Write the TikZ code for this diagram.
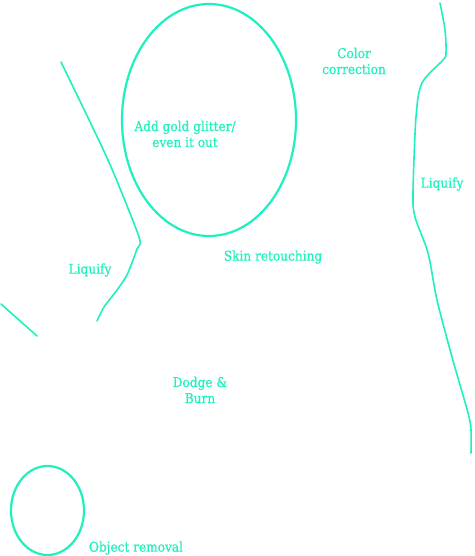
\documentclass[tikz,border=0pt]{standalone}
\usepackage{fontspec}
\setmainfont{DejaVu Serif Condensed}
\newfontfamily\notefont[FakeBold=0.6]{DejaVu Serif Condensed}
\usetikzlibrary{positioning}

\begin{document}
\begin{tikzpicture}[x=1pt, y=-1pt]

		% Colors
		\definecolor{markcolor}{RGB}{30,240,190}

		% Styles
		\tikzset{
			mark line/.style={draw=markcolor, line width=1.6pt, line cap=round, line join=round},
			mark ring/.style={draw=markcolor, line width=2.2pt},
			note/.style={text=markcolor, font=\notefont\fontsize{13.5}{16}\selectfont, align=center, inner sep=0pt}
		}

		% Canvas
		\useasboundingbox (0,0) rectangle (474,556);

		% Rings
		\draw[mark ring] (209,120) ellipse (87 and 116);
		\draw[mark ring] (47.5,510.5) ellipse (36.5 and 44.5);

		% Strokes
		\draw[mark line] plot[smooth, tension=0.4] coordinates {(61,62) (108,160) (139,237) (137,249) (127,275) (117,290) (104,307) (97,321)};
		\draw[mark line] (1,304) -- (37,336);
		\draw[mark line] plot[smooth, tension=0.5] coordinates {(440,3) (445,30) (446,53) (443,60) (422,83) (416,117) (413,193) (415,217) (428,253) (437,300) (452,357) (468,413) (471,430) (471,453)};

		% Labels
		\node (glitter) [note] at (185,134) {Add gold glitter/\\even it out};
		\node (color) [note] at (354,61) {Color\\correction};
		\node (liqright) [note] at (442,184) {Liquify};
		\node (liqleft) [note] at (90,270) {Liquify};
		\node (skin) [note] at (273,257) {Skin retouching};
		\node (dodge) [note] at (200,390) {Dodge \&\\Burn};
		\node (object) [note] at (136,548) {Object removal};

	\end{tikzpicture}
\end{document}
